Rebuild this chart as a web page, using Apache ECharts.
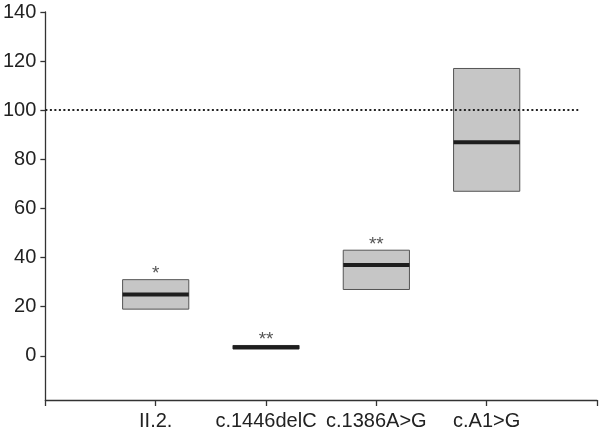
<!DOCTYPE html>
<html lang="en">
<head>
    <meta charset="UTF-8">
    <title>Box chart</title>
    <script src="https://cdn.jsdelivr.net/npm/echarts@6/dist/echarts.min.js"></script>
</head>
<body style="margin:0;background:#fff;">
    <div id="main" style="width:600px;height:431px;"></div>
<script>
    // categories along x, blank at both ends of the axis
    var categories = ['', 'II.2.', 'c.1446delC', 'c.1386A>G', 'c.A1>G', ''];
    var positions = [1, 2, 3, 4];
    var lows = [19, 2.8, 27, 67];
    var medians = [25, 3.5, 37, 87];
    var highs = [31, 4.2, 43, 117];
    var marks = ['*', '**', '**', ''];
    var yTicks = [0, 20, 40, 60, 80, 100, 120, 140];
    var refValue = 100;
    var refLineEnd = 4.83; // dotted line stops short of the axis end

    var boxData = [];
    positions.forEach(function (p, i) {
        boxData.push([p, lows[i], medians[i], highs[i], marks[i]]);
    });

    var myChart = echarts.init(document.getElementById('main'));
    var font = '"Liberation Sans", Arial, sans-serif';

    var option = {
        animation: false,
        grid: { left: 43, right: 1, top: 12, bottom: 31 },
        xAxis: {
            type: 'value',
            min: 0,
            max: 5,
            interval: 1,
            splitLine: { show: false },
            axisLine: { show: true, onZero: false, lineStyle: { color: '#333', width: 1.3 } },
            axisTick: { show: true, length: 6, lineStyle: { color: '#333', width: 1.3 } },
            axisLabel: {
                formatter: function (v) { return categories[v] || ''; },
                color: '#222', fontSize: 20, fontFamily: font, margin: 11,
                showMinLabel: true, showMaxLabel: true
            }
        },
        yAxis: {
            type: 'value',
            min: -18,
            max: 140,
            splitLine: { show: false },
            axisLine: { show: true, lineStyle: { color: '#333', width: 1.3 } },
            axisTick: { show: true, length: 5, customValues: yTicks, lineStyle: { color: '#333', width: 1.3 } },
            axisLabel: { customValues: yTicks, color: '#222', fontSize: 20, fontFamily: font, margin: 9 }
        },
        series: [{
            type: 'custom',
            data: boxData,
            renderItem: function (params, api) {
                var x = api.value(0);
                var pLow = api.coord([x, api.value(1)]);
                var pMed = api.coord([x, api.value(2)]);
                var pHigh = api.coord([x, api.value(3)]);
                var halfW = api.size([1, 0])[0] * 0.3;
                var children = [
                    {
                        type: 'rect',
                        shape: { x: pHigh[0] - halfW, y: pHigh[1], width: halfW * 2, height: pLow[1] - pHigh[1] },
                        style: { fill: '#c6c6c6', stroke: '#555', lineWidth: 1 }
                    },
                    {
                        type: 'line',
                        shape: { x1: pMed[0] - halfW, y1: pMed[1], x2: pMed[0] + halfW, y2: pMed[1] },
                        style: { stroke: '#1e1e1e', lineWidth: 4 }
                    }
                ];
                if (api.value(4)) {
                    children.push({
                        type: 'text',
                        style: {
                            x: pHigh[0], y: pHigh[1] + 4,
                            text: api.value(4),
                            fill: '#555',
                            font: '19px ' + font,
                            textAlign: 'center',
                            textVerticalAlign: 'bottom'
                        }
                    });
                }
                return { type: 'group', children: children };
            },
            markLine: {
                silent: true,
                symbol: 'none',
                label: { show: false },
                lineStyle: { color: '#222', width: 2, type: [2, 2.5] },
                data: [[{ coord: [0, refValue] }, { coord: [refLineEnd, refValue] }]]
            }
        }]
    };

    myChart.setOption(option);
</script>
</body>
</html>
